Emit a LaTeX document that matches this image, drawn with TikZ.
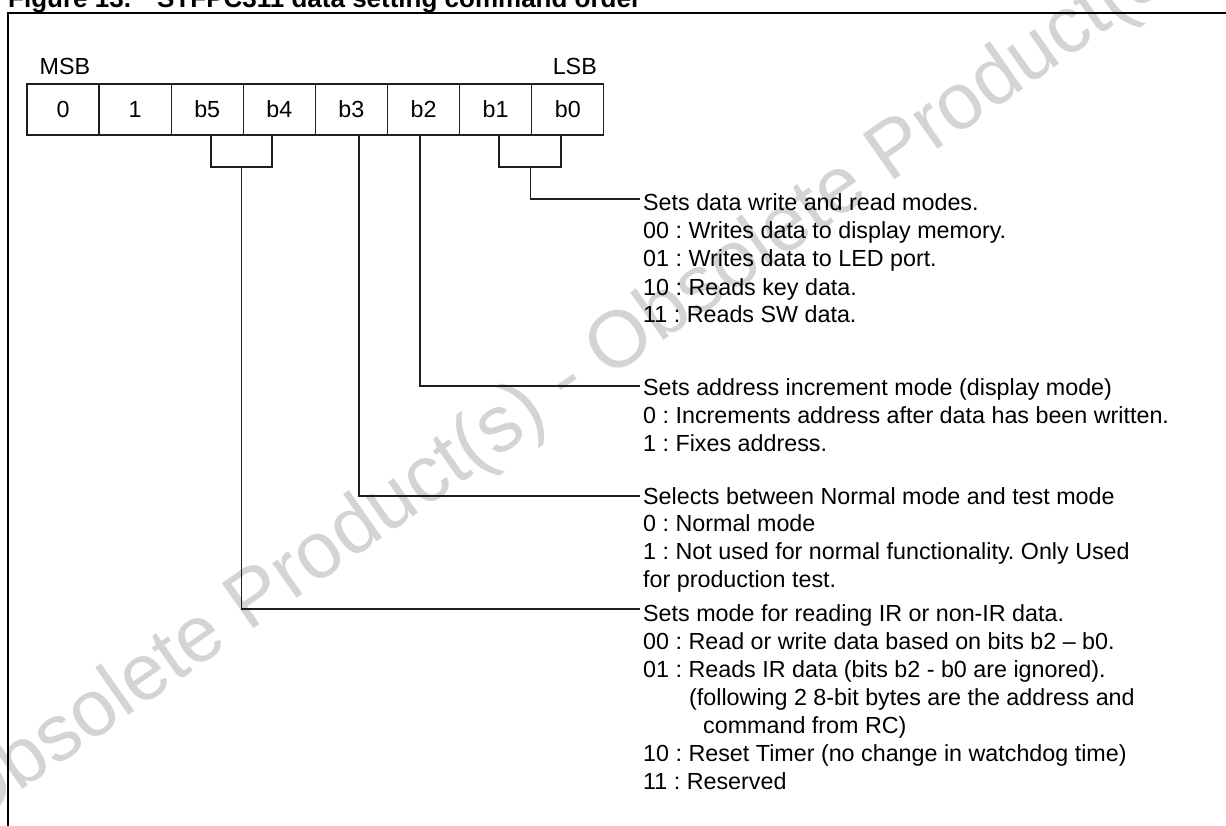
\documentclass[tikz,border=0pt]{standalone}
\usepackage{fontspec}
\setmainfont{Liberation Sans}
\frenchspacing
\definecolor{wmgray}{HTML}{D4D4D4}
\definecolor{ink}{HTML}{1E1E1E}
\newcommand{\txtfont}{\fontsize{23.3}{28}\selectfont}
\begin{document}
\begin{tikzpicture}[x=1pt,y=-1pt,
  cellbox/.style={draw=ink,line width=1.3pt,minimum width=72.1pt,minimum height=51pt,inner sep=0pt,font=\txtfont},
  wire/.style={draw=ink,line width=1.3pt,line join=miter},
  desc/.style={anchor=base west,inner sep=0pt,font=\txtfont},
  titletext/.style={anchor=base west,inner sep=0pt,font=\bfseries\fontsize{26}{30}\selectfont},
]
\useasboundingbox (0,0) rectangle (1226,826);
\clip (0,0) rectangle (1226,826);
\fill[white] (0,0) rectangle (1226,826);
% watermark
\node[rotate=35,text=wmgray,inner sep=0pt,font=\fontsize{80}{80}\selectfont] (wm) at (568,383) {Obsolete Product(s) - Obsolete Product(s)};
% title
\node[titletext] (fignum) at (8,8) {Figure 13.};
\node[titletext] (figtitle) at (157,8) {STFPC311 data setting command order};
% frame
\draw[line width=2pt,black] (8,840) -- (8,13) -- (1240,13);
% register cells
\foreach \t [count=\i from 0] in {0,1,b5,b4,b3,b2,b1,b0}
  \node[cellbox] (c\i) at ({27+72.1*\i+36.05},109.5) {\t};
\node[anchor=west,inner sep=0pt,font=\txtfont] (msb) at (39.5,66) {MSB};
\node[anchor=east,inner sep=0pt,font=\txtfont] (lsb) at (597,66) {LSB};
% description texts
\foreach \txt [count=\k from 0] in {{Sets data write and read modes.},{00 : Writes data to display memory.},{01 : Writes data to LED port.},{10 : Reads key data.},{11 : Reads SW data.}}
  \node[desc] (ta\k) at (643,{211+28*\k}) {\txt};
\foreach \txt [count=\k from 0] in {{Sets address increment mode (display mode)},{0 : Increments address after data has been written.},{1 : Fixes address.}}
  \node[desc] (tb\k) at (643,{395+28*\k}) {\txt};
\foreach \txt [count=\k from 0] in {{Selects between Normal mode and test mode},{0 : Normal mode},{1 : Not used for normal functionality. Only Used},{for production test.}}
  \node[desc] (tc\k) at (643,{504+27.7*\k}) {\txt};
\node[desc] (td0) at (643,621) {Sets mode for reading IR or non-IR data.};
\node[desc] (td1) at (643,649) {00 : Read or write data based on bits b2 -- b0.};
\node[desc] (td2) at (643,677) {01 : Reads IR data (bits b2 - b0 are ignored).};
\node[desc] (td3) at (689,705) {(following 2 8-bit bytes are the address and};
\node[desc] (td4) at (703,733) {command from RC)};
\node[desc] (td5) at (643,761) {10 : Reset Timer (no change in watchdog time)};
\node[desc] (td6) at (643,789) {11 : Reserved};
% connector anchor points
\coordinate (p2) at ([xshift=3.75pt]c2.south);
\coordinate (p3) at ([xshift=-7.35pt]c3.south);
\coordinate (p4) at ([xshift=7.5pt]c4.south);
\coordinate (p5) at ([xshift=-3.5pt]c5.south);
\coordinate (p6) at ([xshift=3.4pt]c6.south);
\coordinate (p7) at ([xshift=-6.8pt]c7.south);
\coordinate (k54) at (241.5,167);
\coordinate (k10) at (530.5,167);
% brackets
\draw[wire] (p2) -- (p2 |- k54) -- (p3 |- k54) -- (p3);
\draw[wire] (p6) -- (p6 |- k10) -- (p7 |- k10) -- (p7);
% leaders
\draw[wire] (k10) |- ([xshift=-3pt,yshift=12pt]ta0.base west);
\draw[wire] (p5) |- ([xshift=-3pt,yshift=9pt]tb0.base west);
\draw[wire] (p4) |- ([xshift=-3pt,yshift=8pt]tc0.base west);
\draw[wire] (k54) |- ([xshift=-3pt,yshift=12pt]td0.base west);
\end{tikzpicture}
\end{document}
